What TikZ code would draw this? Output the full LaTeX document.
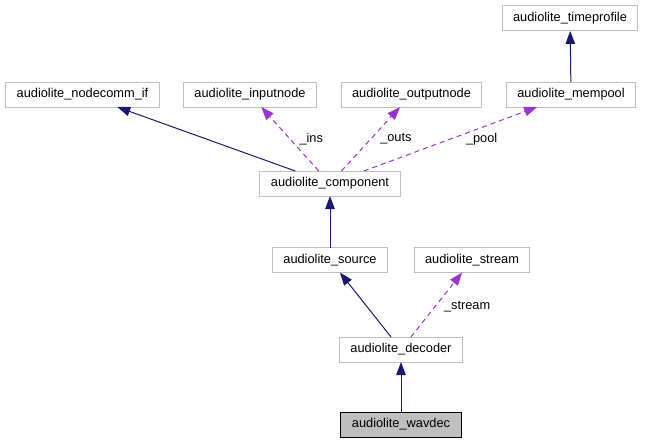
\documentclass[tikz,border=0pt]{standalone}
\usepackage{fontspec}
\setmainfont{Liberation Sans}
\usetikzlibrary{positioning,arrows.meta}
\definecolor{edgegray}{HTML}{BFBFBF}
\definecolor{inhblue}{HTML}{191970}
\definecolor{usepurple}{HTML}{9A32CD}

\begin{document}
\begin{tikzpicture}[x=1pt,y=-1pt,
		klass/.style={draw=edgegray,line width=1pt,minimum height=25pt,inner xsep=11pt,outer sep=0pt},
		focus/.style={klass,draw=black,fill=edgegray},
		inherit/.style={draw=inhblue,line width=1pt,-{Triangle[length=13pt,width=9.5pt]}},
		member/.style={draw=usepurple,line width=1pt,dash pattern=on 5pt off 4pt,-{Triangle[length=13pt,width=9.5pt]}},
		lbl/.style={anchor=west,inner sep=1pt,text=black}]
		\fontsize{12.8}{15}\selectfont
		\useasboundingbox (0,0) rectangle (645,444);
		\node[klass] (timeprofile) at (570,18.5) {audiolite\_timeprofile};
		\node[klass] (nodecomm) at (82.5,94.5) {audiolite\_nodecomm\_if};
		\node[klass] (inputnode) at (250,94.5) {audiolite\_inputnode};
		\node[klass] (outputnode) at (411.5,94.5) {audiolite\_outputnode};
		\node[klass] (mempool) at (571,94.5) {audiolite\_mempool};
		\node[klass] (component) at (330,183.5) {audiolite\_component};
		\node[klass] (source) at (330,260) {audiolite\_source};
		\node[klass] (stream) at (472,260) {audiolite\_stream};
		\node[klass] (decoder) at (401,349.5) {audiolite\_decoder};
		\node[focus] (wavdec) at (401,424.5) {audiolite\_wavdec};

		\draw[inherit] (mempool) -- (timeprofile);
		\draw[inherit] (component) -- (nodecomm);
		\draw[member] (component) -- node[lbl,pos=0.5,xshift=8pt] {\_ins} (inputnode);
		\draw[member] (component) -- node[lbl,pos=0.5,xshift=8pt] {\_outs} (outputnode);
		\draw[member] (component) -- node[lbl,pos=0.5,xshift=14pt] {\_pool} (mempool);
		\draw[inherit] (source) -- (component);
		\draw[inherit] (decoder) -- (source);
		\draw[member] (decoder) -- node[lbl,pos=0.5,xshift=6pt,yshift=-2pt] {\_stream} (stream);
		\draw[inherit] (wavdec) -- (decoder);
	\end{tikzpicture}
\end{document}
